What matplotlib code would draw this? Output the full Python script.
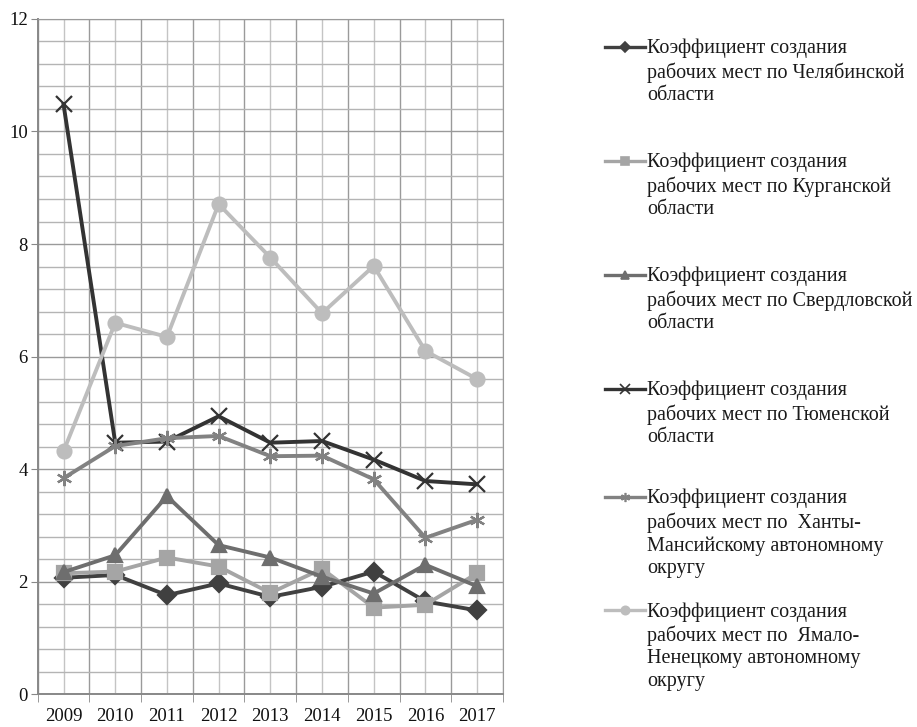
import numpy as np
import matplotlib
matplotlib.use('Agg')
import matplotlib.pyplot as plt
from matplotlib.lines import Line2D
from matplotlib.ticker import MultipleLocator, FixedLocator

plt.rcParams['font.family'] = ['Liberation Serif', 'DejaVu Serif']

years = ['2009', '2010', '2011', '2012', '2013', '2014', '2015', '2016', '2017']

chelyabinsk = [2.07, 2.12, 1.76, 1.97, 1.73, 1.91, 2.18, 1.65, 1.49]
kurgan = [2.15, 2.18, 2.43, 2.27, 1.80, 2.23, 1.54, 1.59, 2.15]
sverdlovsk = [2.17, 2.47, 3.52, 2.65, 2.43, 2.09, 1.79, 2.30, 1.92]
tyumen = [10.48, 4.47, 4.49, 4.94, 4.47, 4.50, 4.17, 3.79, 3.73]
khanty = [3.84, 4.41, 4.55, 4.59, 4.23, 4.24, 3.82, 2.78, 3.10]
yamal = [4.32, 6.60, 6.35, 8.71, 7.76, 6.77, 7.61, 6.10, 5.60]

labels = [
    'Коэффициент создания\nрабочих мест по Челябинской\nобласти',
    'Коэффициент создания\nрабочих мест по Курганской\nобласти',
    'Коэффициент создания\nрабочих мест по Свердловской\nобласти',
    'Коэффициент создания\nрабочих мест по Тюменской\nобласти',
    'Коэффициент создания\nрабочих мест по  Ханты-\nМансийскому автономному\nокругу',
    'Коэффициент создания\nрабочих мест по  Ямало-\nНенецкому автономному\nокругу',
]

series = [chelyabinsk, kurgan, sverdlovsk, tyumen, khanty, yamal]
colors = ['#404040', '#a5a5a5', '#6e6e6e', '#333333', '#828282', '#bdbdbd']
markers = ['D', 's', '^', 'x', (6, 2, 0), 'o']
msizes = [9, 10, 10, 11, 11, 10]

fig = plt.figure(figsize=(9.17, 7.27), dpi=100)
ax = fig.add_axes([0.0411, 0.045, 0.5074, 0.929])

x = np.arange(len(years))
for s, c, m, ms in zip(series, colors, markers, msizes):
    ax.plot(x, s, color=c, linewidth=2.8, marker=m, markersize=ms,
            markeredgewidth=1.6, zorder=3)

ax.set_xlim(-0.5, len(years) - 0.5)
ax.set_ylim(0, 12)
ax.set_xticks(x)
ax.set_xticklabels(years, fontsize=13.5)
ax.xaxis.set_minor_locator(FixedLocator(np.arange(-0.5, len(years), 1.0)))
ax.yaxis.set_major_locator(MultipleLocator(2))
ax.yaxis.set_minor_locator(MultipleLocator(0.4))
ax.tick_params(axis='x', which='major', length=0, pad=10, colors='#111111')
ax.tick_params(axis='x', which='minor', length=6, color='#888888')
ax.tick_params(axis='y', which='major', length=5, color='#888888', labelsize=13.5,
               pad=2, labelcolor='#111111')
ax.tick_params(axis='y', which='minor', length=0)
# centres of categories lighter, boundaries darker
ax.xaxis.grid(True, which='major', color='#c4c4c4', linewidth=1.0)
ax.xaxis.grid(True, which='minor', color='#9a9a9a', linewidth=1.0)
ax.yaxis.grid(True, which='major', color='#9a9a9a', linewidth=1.0)
ax.yaxis.grid(True, which='minor', color='#b4b4b4', linewidth=1.0)
ax.set_axisbelow(True)
for sp in ax.spines.values():
    sp.set_color('#9a9a9a')
ax.spines['left'].set_color('#888888')
ax.spines['bottom'].set_color('#888888')
ax.spines['left'].set_linewidth(1.4)
ax.spines['bottom'].set_linewidth(1.4)

# legend to the right, handle aligned with first text line
tops = [47, 161, 275, 389, 497, 610]
H = 727.0
for lab, c, m, ms, ty in zip(labels, colors, markers, msizes, tops):
    yf = 1 - ty / H
    fig.add_artist(Line2D([605 / 917, 645 / 917], [yf, yf], color=c, linewidth=2.4,
                          transform=fig.transFigure))
    fig.add_artist(Line2D([625 / 917], [yf], color=c, marker=m, markersize=ms * 0.6,
                          markeredgewidth=1.2, transform=fig.transFigure))
    fig.text(647 / 917, yf + 8 / H, lab, fontsize=14.5, va='top', ha='left',
             linespacing=1.25, color='#1a1a1a')

fig.savefig('out.png', dpi=100)
